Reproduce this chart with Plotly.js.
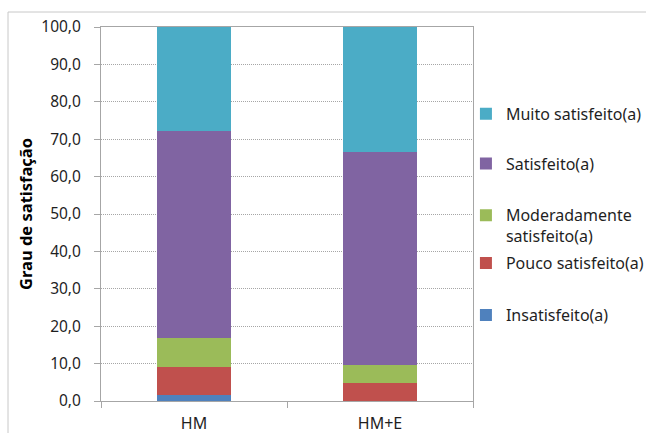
<!DOCTYPE html>
<html>
<head>
<meta charset="utf-8">
<script src="https://cdn.plot.ly/plotly-3.0.1.min.js"></script>
<style>
  html, body { margin: 0; padding: 0; background: #fff; overflow: hidden; }
  #chart { width: 646px; height: 433px; overflow: hidden; }
</style>
</head>
<body>
<div id="chart"></div>
<script>
// Grupos comparados
const categories = ['HM', 'HM+E'];

// Percentagem de respostas em cada nível de satisfação
const insatisfeito   = [1.5, 0.0];
const poucoSatisf    = [7.7, 4.8];
const moderadamente  = [7.7, 4.8];
const satisfeito     = [55.4, 57.1];
const muitoSatisf    = [27.7, 33.3];

const seriesNames = [
  'Insatisfeito(a)',
  'Pouco satisfeito(a)',
  'Moderadamente<br>satisfeito(a)',
  'Satisfeito(a)',
  'Muito satisfeito(a)'
];

const yTickVals = [0, 10, 20, 30, 40, 50, 60, 70, 80, 90, 100];

const FONT = 'Noto Sans, Open Sans, DejaVu Sans, sans-serif';
const TEXT_COLOR = '#1f1f1f';

const seriesValues = [insatisfeito, poucoSatisf, moderadamente, satisfeito, muitoSatisf];
const seriesColors = ['#4F81BD', '#C0504D', '#9BBB59', '#8064A2', '#4BACC6'];
// cada série tem a sua própria legenda, para espaçar as entradas por igual
const legendIds = ['legend5', 'legend4', 'legend3', 'legend2', 'legend'];
const legendY = [0.2750, 0.4140, 0.5420, 0.6800, 0.8133];

const traces = seriesValues.map((vals, i) => ({
  type: 'bar',
  name: seriesNames[i],
  x: categories,
  y: vals,
  marker: { color: seriesColors[i], line: { width: 0 } },
  legend: legendIds[i],
  showlegend: true,
  hoverinfo: 'name+y'
}));

const legendBase = {
  x: 0.981,
  xanchor: 'left',
  yanchor: 'top',
  valign: 'top',
  bgcolor: 'rgba(0,0,0,0)',
  borderwidth: 0,
  font: { family: FONT, size: 16, color: TEXT_COLOR }
};

// a figura é um pouco mais larga do que a janela visível (646 px),
// para que as legendas caibam sem encolher a área do gráfico
const layout = {
  width: 680,
  height: 433,
  margin: { l: 101, r: 207, t: 27, b: 32 },
  paper_bgcolor: '#ffffff',
  plot_bgcolor: '#ffffff',
  separators: ',.',
  barmode: 'stack',
  bargap: 0.6,
  showlegend: true,
  font: { family: FONT, size: 16, color: TEXT_COLOR },
  xaxis: {
    type: 'category',
    tickson: 'boundaries',
    ticks: 'outside',
    ticklen: 6,
    tickcolor: '#a6a6a6',
    ticklabelstandoff: 8,
    showline: true,
    linecolor: '#a6a6a6',
    linewidth: 1,
    mirror: true,
    showgrid: false,
    automargin: false,
    tickfont: { family: FONT, size: 16, color: TEXT_COLOR }
  },
  yaxis: {
    range: [0, 100],
    tickvals: yTickVals,
    tickformat: '.1f',
    ticks: 'outside',
    ticklen: 6,
    tickcolor: '#a6a6a6',
    ticklabelstandoff: 10,
    showline: true,
    linecolor: '#a6a6a6',
    linewidth: 1,
    mirror: true,
    showgrid: true,
    gridcolor: '#a6a6a6',
    griddash: '1px,1px',
    zeroline: false,
    automargin: false,
    tickfont: { family: FONT, size: 15.5, color: TEXT_COLOR },
    title: {
      text: '<b>Grau de satisfação</b>',
      standoff: 4,
      font: { family: FONT, size: 16.5, color: '#000000' }
    }
  },
  shapes: [
    // moldura exterior do gráfico
    {
      type: 'rect', xref: 'paper', yref: 'paper',
      x0: -0.25, x1: 1.6, y0: -0.3, y1: 1.0401,
      line: { color: '#c8c8c8', width: 1 },
      fillcolor: 'rgba(0,0,0,0)', layer: 'below'
    }
  ]
};

legendIds.forEach((id, i) => {
  layout[id] = Object.assign({}, legendBase, { y: legendY[i] });
});

Plotly.newPlot('chart', traces, layout, { displayModeBar: false, staticPlot: true });
</script>
</body>
</html>
